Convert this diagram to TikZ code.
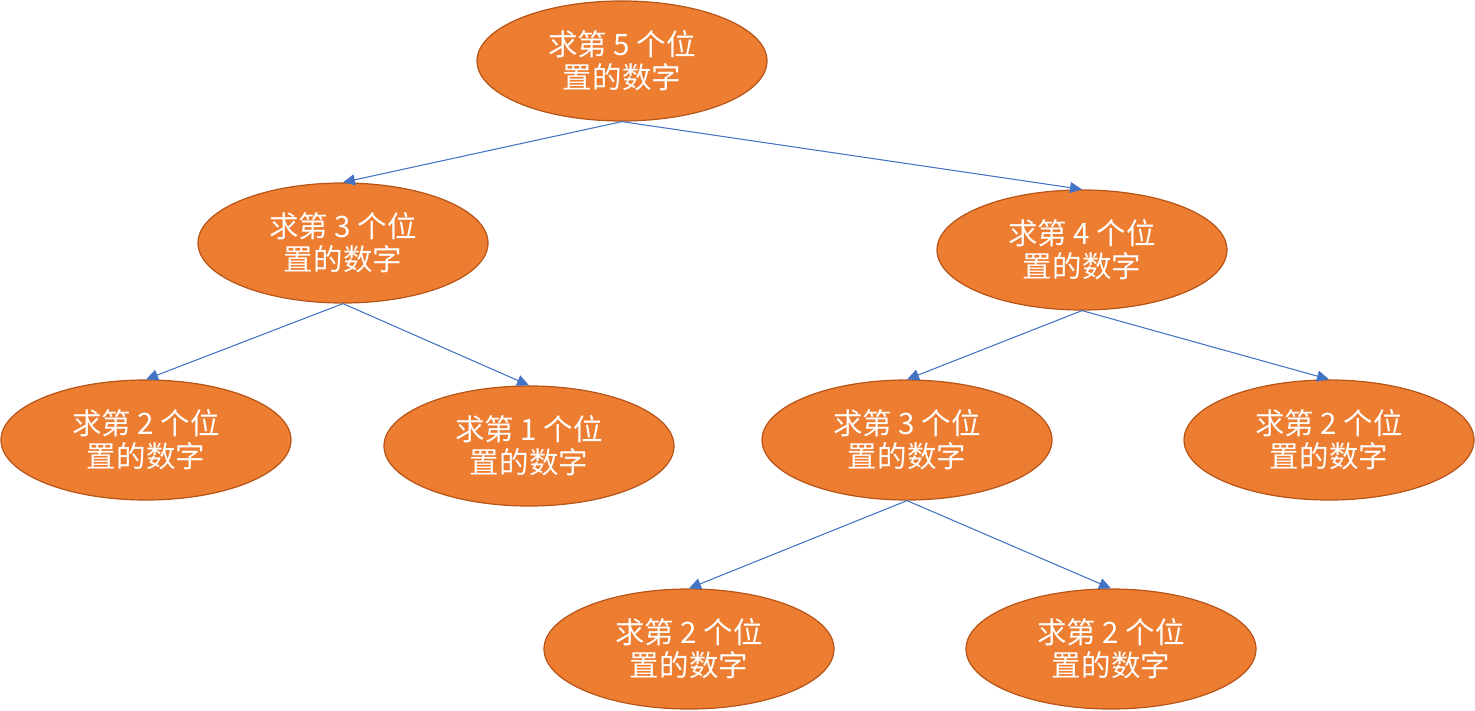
\documentclass[tikz,border=0pt]{standalone}
\usepackage{fontspec}
\usepackage{tikz}
\usetikzlibrary{shapes.geometric,arrows.meta}
\newfontfamily\cjk{Noto Sans CJK SC}
\definecolor{nodeorange}{HTML}{ED7D31}
\definecolor{nodeborder}{HTML}{B8561A}
\definecolor{edgeblue}{HTML}{4472C4}

\begin{document}
\begin{tikzpicture}
  [every node/.style={ellipse,fill=nodeorange,draw=nodeborder,line width=0.7pt,
     minimum width=5.8cm,minimum height=2.4cm,inner sep=0pt,align=center,
     text=white,font=\cjk\fontsize{16.8pt}{18.8pt}\selectfont}]
  \useasboundingbox (0,0) rectangle (29.5,14.2);
  \node (p5) at (12.44, 12.98) {求第 5 个位\\置的数字};
  \node (p3) at (6.86, 9.34) {求第 3 个位\\置的数字};
  \node (p4) at (21.64, 9.2) {求第 4 个位\\置的数字};

  \node (p2a) at (2.92, 5.4) {求第 2 个位\\置的数字};
  \node (p1) at (10.58, 5.28) {求第 1 个位\\置的数字};
  \node (p3b) at (18.14, 5.4) {求第 3 个位\\置的数字};
  \node (p2b) at (26.58, 5.4) {求第 2 个位\\置的数字};

  \node (p2c) at (13.78, 1.22) {求第 2 个位\\置的数字};
  \node (p2d) at (22.22, 1.22) {求第 2 个位\\置的数字};

  \foreach \from/\to in {p5/p3,p5/p4,p3/p2a,p3/p1,p4/p3b,p4/p2b,p3b/p2c,p3b/p2d}
    \draw[edgeblue,line width=0.6pt,-{Triangle[length=0.24cm,width=0.22cm]}]
      (\from.south) -- (\to.north);
\end{tikzpicture}
\end{document}
